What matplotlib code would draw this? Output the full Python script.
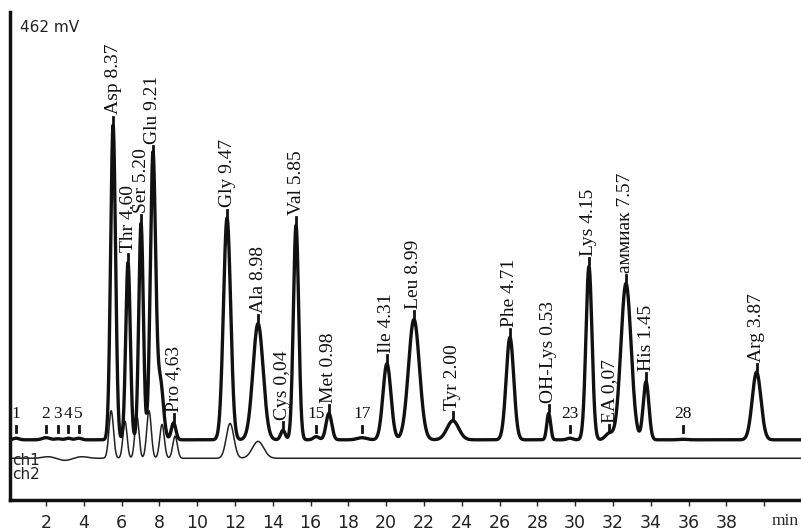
import numpy as np
import matplotlib
matplotlib.use('Agg')
import matplotlib.pyplot as plt

# ch1 peaks: retention time (min), height above baseline (mV), width sigma (min)
peak_names = ['Asp 8.37', 'Thr 4.60', 'Ser 5.20', 'Glu 9.21', 'Pro 4,63', 'Gly 9.47',
              'Ala 8.98', 'Cys 0,04', 'Val 5.85', 'Met 0.98', 'Ile 4.31', 'Leu 8.99',
              'Tyr 2.00', 'Phe 4.71', 'OH-Lys 0.53', 'Lys 4.15', 'EA 0,07',
              'аммиак 7.57', 'His 1.45', 'Arg 3.87']
peak_times = [5.55, 6.34, 7.03, 7.66, 8.75, 11.58, 13.22, 14.54, 15.23, 16.97,
              20.04, 21.47, 23.53, 26.55, 28.60, 30.73, 31.80, 32.69, 33.75, 39.60]
peak_heights = [298, 168, 205, 270, 16, 210, 110, 9, 203, 25,
                72, 114, 18, 97, 25, 164, 6, 148, 55, 64]
peak_sigmas = [0.13, 0.12, 0.12, 0.14, 0.12, 0.19, 0.27, 0.12, 0.14, 0.15,
               0.21, 0.29, 0.31, 0.20, 0.10, 0.16, 0.20, 0.27, 0.15, 0.23]

# extra unlabeled shoulder of Glu
shoulder_times = [8.05]
shoulder_heights = [55]
shoulder_sigmas = [0.16]

# small numbered peaks on ch1
minor_names = ['1', '2', '3', '4', '5', '15', '17', '23', '28']
minor_times = [0.42, 2.00, 2.63, 3.18, 3.72, 16.30, 18.72, 29.72, 35.70]
minor_heights = [1.5, 2.0, 1.0, 1.5, 1.5, 3.0, 2.0, 1.5, 0.5]
minor_sigmas = [0.15, 0.2, 0.15, 0.15, 0.15, 0.15, 0.25, 0.15, 0.2]

# ch2 peaks
ch2_times = [5.45, 6.18, 6.81, 7.45, 8.14, 8.83, 11.74, 13.22, 2.1, 3.0, 3.9]
ch2_heights = [45, 35, 40, 45, 32, 21, 33, 16, 1.5, -2.0, 1.5]
ch2_sigmas = [0.12, 0.11, 0.11, 0.12, 0.12, 0.12, 0.20, 0.30, 0.3, 0.3, 0.3]

ch1_base = 57.0
ch2_base = 39.5

xticks = list(range(2, 41, 2))
xtick_labels = [str(v) for v in range(2, 39, 2)] + ['']


def gauss_sum(t, times, heights, sigmas):
    y = np.zeros_like(t)
    for m, h, s in zip(times, heights, sigmas):
        y += h * np.exp(-0.5 * ((t - m) / s) ** 2)
    return y


t = np.linspace(0.0, 42.0, 6000)
ch1 = (ch1_base + gauss_sum(t, peak_times, peak_heights, peak_sigmas)
       + gauss_sum(t, shoulder_times, shoulder_heights, shoulder_sigmas)
       + gauss_sum(t, minor_times, minor_heights, minor_sigmas))
ch2 = ch2_base + gauss_sum(t, ch2_times, ch2_heights, ch2_sigmas)

fig = plt.figure(figsize=(8.01, 5.32), dpi=100)
ax = fig.add_axes([10 / 801, 32 / 532, 791 / 801, 488 / 532])

ax.plot(t, ch2, color='#222222', lw=1.1)
ax.plot(t, ch1, color='#111111', lw=2.4)

ax.set_xlim(0.095, 41.95)
ax.set_ylim(0, 462)

# labelled peaks: short marker bar + vertical text
for name, m, h in zip(peak_names, peak_times, peak_heights):
    top = ch1_base + h
    ax.plot([m, m], [top + 2, top + 8], color='#111111', lw=2)
    ax.text(m, top + 10, name, rotation=90, ha='center', va='bottom',
            fontsize=14, family='Liberation Serif', color='#111111')

# numbered minor peaks: small bar + number
for name, m in zip(minor_names, minor_times):
    ax.plot([m, m], [ch1_base + 7, ch1_base + 13.5], color='#111111', lw=2)
    ax.text(m, ch1_base + 16.5, name, ha='center', va='bottom', fontsize=12.5,
            family='Liberation Serif', color='#111111')

ax.text(0.2, 37, 'ch1', ha='left', va='center', fontsize=11, color='#222222')
ax.text(0.2, 24, 'ch2', ha='left', va='center', fontsize=11, color='#222222')
fig.text(20 / 801, 1 - 28 / 532, '462 mV', ha='left', va='center', fontsize=11,
         color='#222222')

for side in ['top', 'right']:
    ax.spines[side].set_visible(False)
for side in ['left', 'bottom']:
    ax.spines[side].set_linewidth(2.5)
    ax.spines[side].set_color('#111111')

ax.set_yticks([])
ax.set_xticks(xticks)
ax.set_xticklabels(xtick_labels)
ax.tick_params(axis='x', direction='out', length=4, width=1, pad=6,
               labelsize=12.5, colors='#222222')
ax.text(41.1, -0.043, 'min', transform=ax.get_xaxis_transform(), ha='center',
        va='center', fontsize=12.5, family='Liberation Serif', color='#222222')

fig.savefig('out.png', dpi=100)
